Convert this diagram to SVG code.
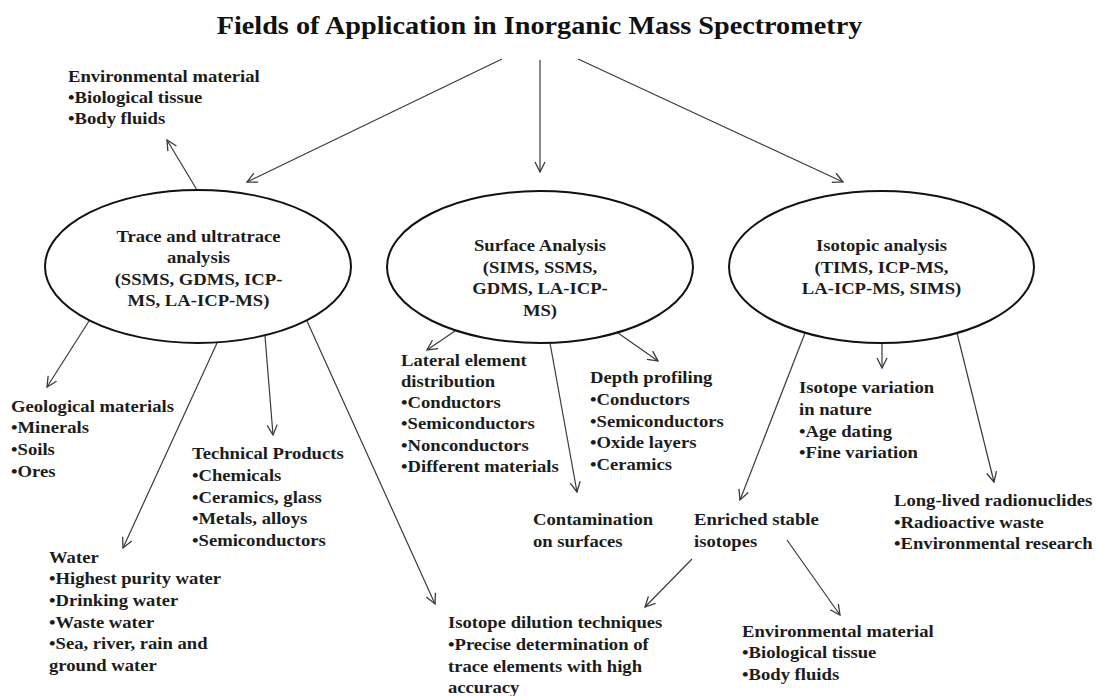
<svg xmlns="http://www.w3.org/2000/svg" width="1097" height="696" viewBox="0 0 1097 696">
<style>
.t{font-family:"Liberation Serif","Times New Roman",serif;font-weight:bold;font-size:16.5px;fill:#1c1c1c}
.title{font-size:25px;fill:#111}
.c{text-anchor:middle}
.node{fill:#fff;stroke:#111;stroke-width:2}
.conn line{stroke:#3a3a3a;stroke-width:1.2;fill:none;marker-end:url(#arr)}
</style>
<defs>
<marker id="arr" viewBox="0 0 12 12" refX="11" refY="6" markerWidth="12" markerHeight="12" markerUnits="userSpaceOnUse" orient="auto">
<path d="M1,1 L11,6 L1,11" fill="none" stroke="#3a3a3a" stroke-width="1.3"/>
</marker>
</defs>
<rect width="1097" height="696" fill="#fff"/>

<g id="title">
<text class="t title c" transform="translate(539.5 0) scale(1.13 1)"><tspan x="0" y="34">Fields of Application in Inorganic Mass Spectrometry</tspan></text>
</g>

<g class="conn" id="connectors">
<line x1="502" y1="59" x2="247" y2="182"/>
<line x1="540" y1="60" x2="540" y2="172"/>
<line x1="578" y1="59" x2="843" y2="182"/>
<line x1="197" y1="190" x2="167" y2="140"/>
<line x1="89" y1="321" x2="47" y2="387"/>
<line x1="217" y1="343" x2="123" y2="548"/>
<line x1="265" y1="336" x2="273" y2="435"/>
<line x1="307" y1="321" x2="435" y2="604"/>
<line x1="455" y1="331" x2="427" y2="350"/>
<line x1="618" y1="333" x2="658" y2="361"/>
<line x1="550" y1="343" x2="577" y2="492"/>
<line x1="882" y1="343" x2="882" y2="368"/>
<line x1="805" y1="333" x2="740" y2="500"/>
<line x1="957" y1="333" x2="994" y2="482"/>
<line x1="692" y1="559" x2="645" y2="607"/>
<line x1="787" y1="540" x2="840" y2="615"/>
</g>

<g id="trace">
<ellipse class="node" cx="198" cy="266.5" rx="153" ry="76.5"/>
<text class="t c" transform="translate(198.5 0) scale(1.13 1)"><tspan x="0" y="242">Trace and ultratrace</tspan><tspan x="0" y="263.5">analysis</tspan><tspan x="0" y="285">(SSMS, GDMS, ICP-</tspan><tspan x="0" y="306.5">MS, LA-ICP-MS)</tspan></text>
</g>

<g id="surface">
<ellipse class="node" cx="540" cy="267" rx="153" ry="76"/>
<text class="t c" transform="translate(540 0) scale(1.13 1)"><tspan x="0" y="251.5">Surface Analysis</tspan><tspan x="0" y="273">(SIMS, SSMS,</tspan><tspan x="0" y="294.5">GDMS, LA-ICP-</tspan><tspan x="0" y="316">MS)</tspan></text>
</g>

<g id="isotopic">
<ellipse class="node" cx="881.5" cy="267" rx="152.5" ry="76"/>
<text class="t c" transform="translate(881.5 0) scale(1.13 1)"><tspan x="0" y="251.5">Isotopic analysis</tspan><tspan x="0" y="273">(TIMS, ICP-MS,</tspan><tspan x="0" y="294.5">LA-ICP-MS, SIMS)</tspan></text>
</g>

<g id="env-top">
<text class="t" transform="translate(68 0) scale(1.13 1)"><tspan x="0" y="82">Environmental material</tspan><tspan x="0" y="103">•Biological tissue</tspan><tspan x="0" y="124">•Body fluids</tspan></text>
</g>

<g id="geological">
<text class="t" transform="translate(11 0) scale(1.13 1)"><tspan x="0" y="411.7">Geological materials</tspan><tspan x="0" y="433.3">•Minerals</tspan><tspan x="0" y="455">•Soils</tspan><tspan x="0" y="476.7">•Ores</tspan></text>
</g>

<g id="technical">
<text class="t" transform="translate(192 0) scale(1.13 1)"><tspan x="0" y="459.3">Technical Products</tspan><tspan x="0" y="481">•Chemicals</tspan><tspan x="0" y="502.7">•Ceramics, glass</tspan><tspan x="0" y="524.3">•Metals, alloys</tspan><tspan x="0" y="546">•Semiconductors</tspan></text>
</g>

<g id="water">
<text class="t" transform="translate(49 0) scale(1.13 1)"><tspan x="0" y="562.7">Water</tspan><tspan x="0" y="584.3">•Highest purity water</tspan><tspan x="0" y="606">•Drinking water</tspan><tspan x="0" y="627.7">•Waste water</tspan><tspan x="0" y="649.3">•Sea, river, rain and</tspan><tspan x="0" y="671">ground water</tspan></text>
</g>

<g id="dilution">
<text class="t" transform="translate(448 0) scale(1.13 1)"><tspan x="0" y="628.3">Isotope dilution techniques</tspan><tspan x="0" y="650">•Precise determination of</tspan><tspan x="0" y="671.7">trace elements with high</tspan><tspan x="0" y="693.3">accuracy</tspan></text>
</g>

<g id="lateral">
<text class="t" transform="translate(401 0) scale(1.13 1)"><tspan x="0" y="366.5">Lateral element</tspan><tspan x="0" y="387.5">distribution</tspan><tspan x="0" y="408">•Conductors</tspan><tspan x="0" y="429.5">•Semiconductors</tspan><tspan x="0" y="451">•Nonconductors</tspan><tspan x="0" y="472.5">•Different materials</tspan></text>
</g>

<g id="depth">
<text class="t" transform="translate(590 0) scale(1.13 1)"><tspan x="0" y="383.3">Depth profiling</tspan><tspan x="0" y="405">•Conductors</tspan><tspan x="0" y="426.7">•Semiconductors</tspan><tspan x="0" y="448.3">•Oxide layers</tspan><tspan x="0" y="470">•Ceramics</tspan></text>
</g>

<g id="contamination">
<text class="t" transform="translate(533 0) scale(1.13 1)"><tspan x="0" y="525">Contamination</tspan><tspan x="0" y="546.7">on surfaces</tspan></text>
</g>

<g id="variation">
<text class="t" transform="translate(799 0) scale(1.13 1)"><tspan x="0" y="393.3">Isotope variation</tspan><tspan x="0" y="415">in nature</tspan><tspan x="0" y="436.7">•Age dating</tspan><tspan x="0" y="458.3">•Fine variation</tspan></text>
</g>

<g id="enriched">
<text class="t" transform="translate(694 0) scale(1.13 1)"><tspan x="0" y="525">Enriched stable</tspan><tspan x="0" y="546.7">isotopes</tspan></text>
</g>

<g id="radionuclides">
<text class="t" transform="translate(894 0) scale(1.13 1)"><tspan x="0" y="506">Long-lived radionuclides</tspan><tspan x="0" y="527.7">•Radioactive waste</tspan><tspan x="0" y="549.3">•Environmental research</tspan></text>
</g>

<g id="env-bottom">
<text class="t" transform="translate(742 0) scale(1.13 1)"><tspan x="0" y="636.7">Environmental material</tspan><tspan x="0" y="658.3">•Biological tissue</tspan><tspan x="0" y="680">•Body fluids</tspan></text>
</g>
</svg>
